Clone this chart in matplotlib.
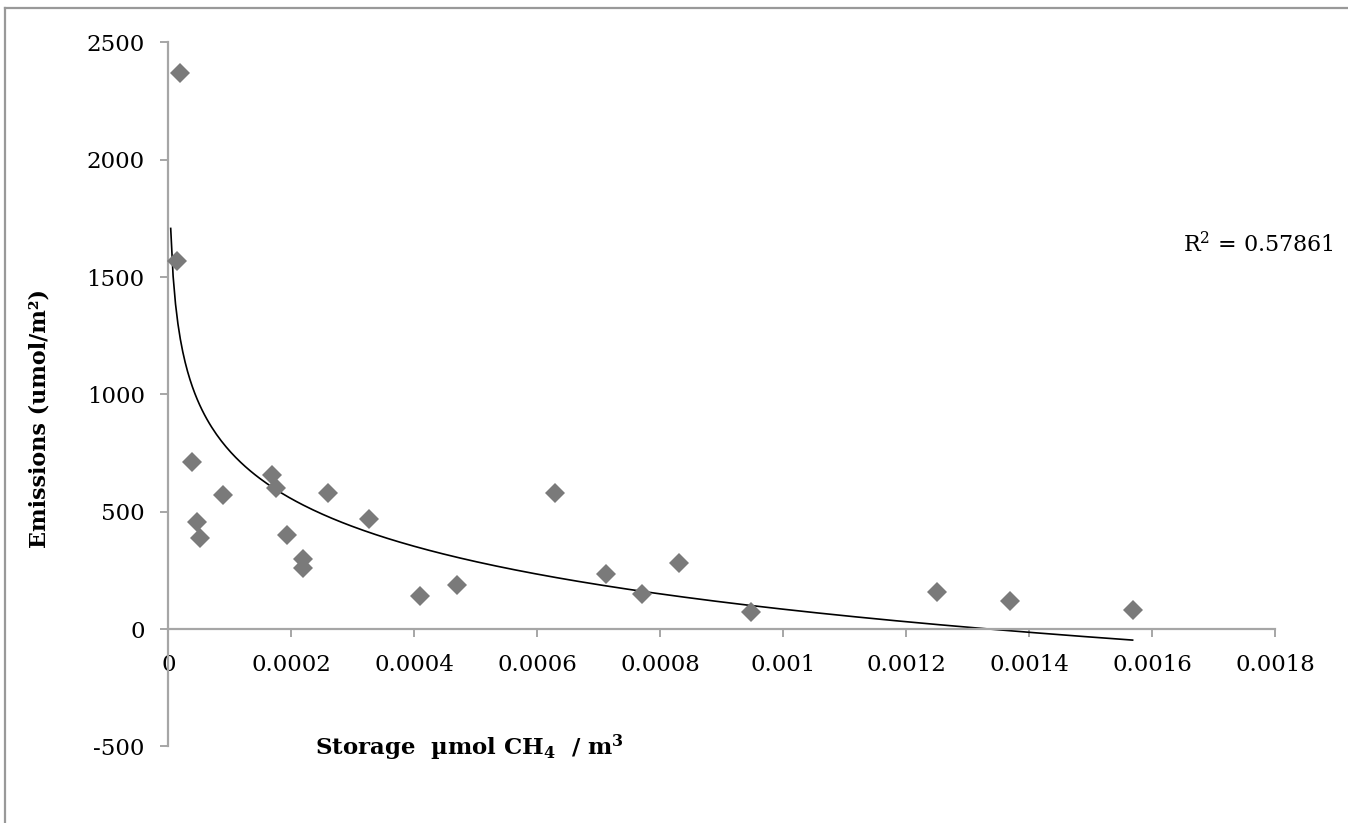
import matplotlib
matplotlib.use("Agg")
import matplotlib.pyplot as plt
from matplotlib.lines import Line2D
import numpy as np

# storage (umol CH4 / m3) vs emissions (umol/m2)
storage = [1.9e-5, 1.46e-5, 3.8e-5, 8.94e-5, 4.61e-5, 5.15e-5,
           1.69e-4, 1.746e-4, 1.935e-4, 2.195e-4, 2.195e-4, 2.59e-4,
           3.27e-4, 4.09e-4, 4.69e-4, 6.28e-4, 7.11e-4, 7.71e-4,
           8.3e-4, 9.48e-4, 1.25e-3, 1.368e-3, 1.568e-3]
emissions = [2369, 1568, 710, 572, 457, 390,
             656, 602, 400, 299, 258, 580,
             467, 142, 187, 580, 233, 148,
             282, 74, 159, 121, 81]

# log trendline as drawn in the chart: y = a*ln(x) + b
trend_a = -292.5
trend_b = -1936
trend_start = 3.9e-6
r2_text = "R$^2$ = 0.57861"

x_ticks = [0, 0.0002, 0.0004, 0.0006, 0.0008, 0.001, 0.0012, 0.0014, 0.0016, 0.0018]
x_tick_labels = ["0", "0.0002", "0.0004", "0.0006", "0.0008", "0.001",
                 "0.0012", "0.0014", "0.0016", "0.0018"]
y_ticks = [-500, 0, 500, 1000, 1500, 2000, 2500]

plt.rcParams["font.family"] = ["DejaVu Serif"]
plt.rcParams["mathtext.fontset"] = "dejavuserif"
plt.rcParams["axes.unicode_minus"] = False

W, H = 1348, 823
fig = plt.figure(figsize=(W / 100, H / 100), dpi=100)
ax = fig.add_axes([168.3 / W, 1 - 746.4 / H, (1275.3 - 168.3) / W, (746.4 - 42.3) / H])

axis_gray = "#A6A6A6"
ax.set_xlim(0, 0.0018)
ax.set_ylim(-500, 2500)
for s in ["top", "right"]:
    ax.spines[s].set_visible(False)
ax.spines["bottom"].set_position(("data", 0))
for s in ["left", "bottom"]:
    ax.spines[s].set_color(axis_gray)
    ax.spines[s].set_linewidth(1.6)

ax.set_xticks(x_ticks)
ax.set_xticklabels(x_tick_labels)
ax.set_yticks(y_ticks)
ax.tick_params(axis="both", direction="out", length=6, width=1.4,
               color=axis_gray, labelsize=16.5, labelcolor="black")
ax.tick_params(axis="y", pad=11)
ax.tick_params(axis="x", pad=12)

tx = np.linspace(trend_start, max(storage), 400)
ax.plot(tx, trend_a * np.log(tx) + trend_b, color="black", lw=1.2, zorder=2)
ax.plot(storage, emissions, linestyle="none", marker="D", markersize=10.5,
        color="#7A7A7A", markeredgewidth=0, zorder=3, clip_on=False)

fig.text(1183 / W, 1 - 245 / H, r2_text, fontsize=16, va="center", ha="left")
fig.text(40 / W, 1 - 418 / H, "Emissions (umol/m²)", rotation=90,
         fontsize=16, fontweight="bold", va="center", ha="center")
fig.text(315 / W, 1 - 748 / H,
         r"Storage  µmol CH$_{\mathbf{4}}$  / m$^{\mathbf{3}}$",
         fontsize=16.5, fontweight="bold", va="center", ha="left")

# chart-area border (left and top only visible)
fig.add_artist(Line2D([5 / W, 5 / W], [0, 1 - 8 / H], transform=fig.transFigure,
                      color="#999999", lw=1.6))
fig.add_artist(Line2D([5 / W, 1], [1 - 8 / H, 1 - 8 / H], transform=fig.transFigure,
                      color="#999999", lw=1.6))

fig.savefig("out.png", dpi=100)
plt.close(fig)
